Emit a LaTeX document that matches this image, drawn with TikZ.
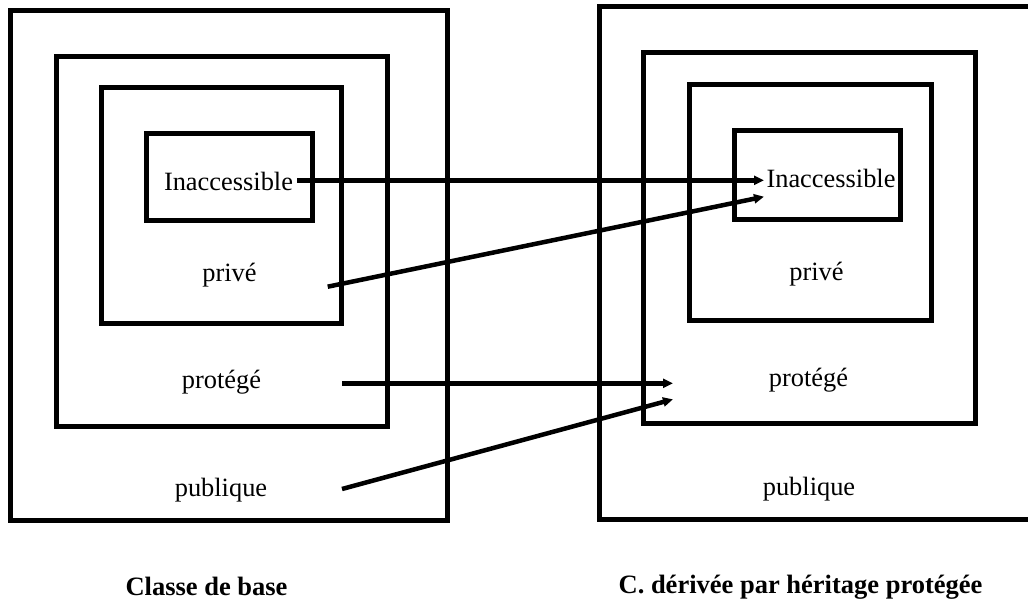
\documentclass[tikz,border=0pt]{standalone}
\usepackage{fontspec}
\setmainfont{Liberation Serif}
\usetikzlibrary{arrows.meta}
\begin{document}
\begin{tikzpicture}[x=1pt,y=-1pt,
  box/.style={draw=black,line width=5pt},
  lbl/.style={inner sep=0pt,anchor=base,font=\fontsize{26.4}{30}\selectfont},
  caption/.style={inner sep=0pt,anchor=base,font=\fontsize{26.5}{30}\selectfont\bfseries},
  link/.style={line width=4.5pt,-{Triangle[length=10pt,width=9pt]}}]
\useasboundingbox (0,0) rectangle (1028,600);
\clip (0,0) rectangle (1028,600);
% left boxes
\draw[box] (10.8,10.8) rectangle (447,520);
\draw[box] (56,56) rectangle (387,426.5);
\draw[box] (101.5,87.5) rectangle (341.5,323.5);
\draw[box] (146.5,133) rectangle (312.5,220.5);
% right boxes
\draw[box] (599,6.5) rectangle (1040,519.5);
\draw[box] (643.5,52.5) rectangle (975,423.5);
\draw[box] (689.5,84.5) rectangle (931,320.5);
\draw[box] (734.5,130) rectangle (900.5,219);
% texts
\node[lbl] (inL) at (228.5,190.5) {Inaccessible};
\node[lbl] (prL) at (229.5,281.5) {privé};
\node[lbl] (ptL) at (221.5,388) {protégé};
\node[lbl] (puL) at (221,496.5) {publique};
\node[lbl] (inR) at (831,187.5) {Inaccessible};
\node[lbl] (prR) at (816.5,280) {privé};
\node[lbl] (ptR) at (808.5,386.5) {protégé};
\node[lbl] (puR) at (809,495) {publique};
\node[caption] (capL) at (206.5,595) {Classe de base};
\node[caption] (capR) at (800.5,593) {C. dérivée par héritage protégée};
% arrow end points
\coordinate (a1s) at (297,180.3);
\coordinate (a1e) at (764,180.3);
\coordinate (a2s) at (327.7,286.7);
\coordinate (a2e) at (764,196.7);
\coordinate (a3s) at (342,383.3);
\coordinate (a3e) at (673,383.3);
\coordinate (a4s) at (342,489);
\coordinate (a4e) at (673,399.3);
\draw[link] (a1s) -- (a1e);
\draw[link] (a2s) -- (a2e);
\draw[link] (a3s) -- (a3e);
\draw[link] (a4s) -- (a4e);
\end{tikzpicture}
\end{document}
